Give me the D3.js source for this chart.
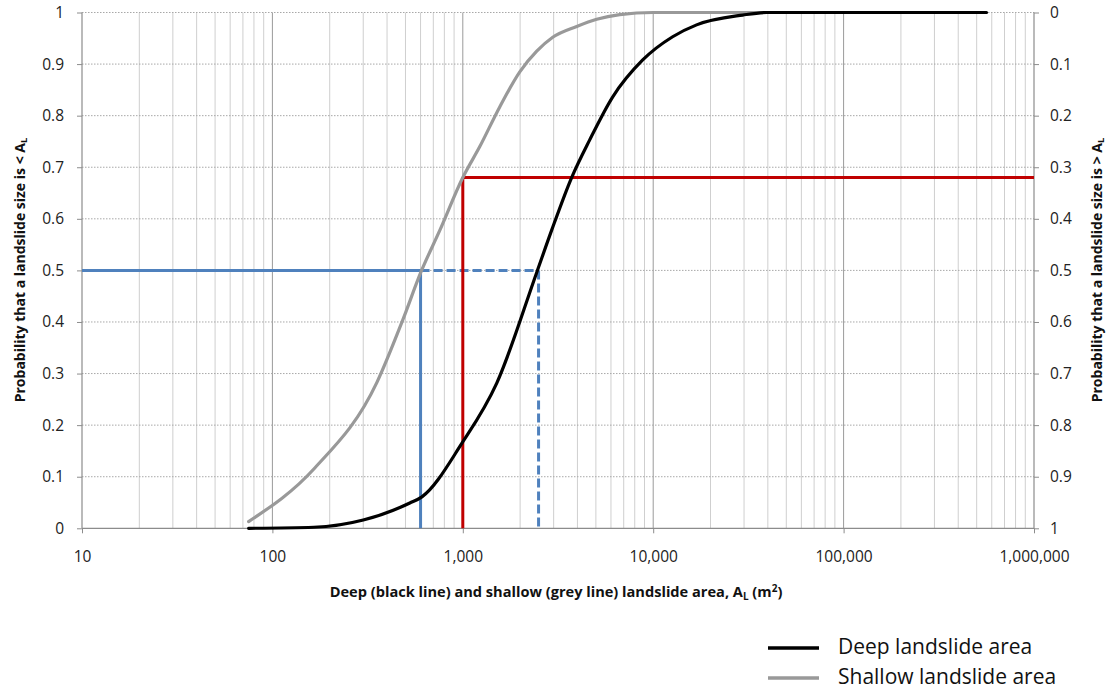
<!DOCTYPE html>
<html>
<head>
<meta charset="utf-8">
<script src="https://cdn.jsdelivr.net/npm/d3@7"></script>
<style>
  html, body { margin: 0; padding: 0; background: #fff; }
  svg { display: block; font-family: "Open Sans", Lato, sans-serif; }
</style>
</head>
<body>
<svg id="chart" width="1108" height="690"></svg>
<script>
// Cumulative probability of landslide area (m²)
const deepArea = [75, 165, 300, 527, 610, 990, 1510, 2450, 2930, 3730, 4640, 6120, 8810, 12650, 16900, 29500, 39500, 563000];
const deepProb = [0, 0.002, 0.016, 0.049, 0.061, 0.165, 0.282, 0.497, 0.578, 0.68, 0.753, 0.836, 0.908, 0.953, 0.976, 0.995, 1.0, 1.0];

const shallowArea = [75, 167, 354, 484, 603, 758, 1000, 1228, 1563, 1992, 2445, 2967, 3966, 5050, 6670, 10000, 40000];
const shallowProb = [0.013, 0.117, 0.283, 0.404, 0.497, 0.578, 0.68, 0.74, 0.817, 0.885, 0.925, 0.952, 0.973, 0.987, 0.996, 1.0, 1.0];

// Reference lines: median areas and the probability at 1,000 m²
const medianProb = 0.5;
const medianShallow = 600;
const medianDeep = 2500;
const refArea = 1000;
const refProb = 0.68;

const xDomain = [10, 1000000];
const xTickValues = [10, 100, 1000, 10000, 100000, 1000000];
const xTickLabels = ["10", "100", "1,000", "10,000", "100,000", "1,000,000"];
const yTickValues = [0, 0.1, 0.2, 0.3, 0.4, 0.5, 0.6, 0.7, 0.8, 0.9, 1];
const yTickLabels = ["0", "0.1", "0.2", "0.3", "0.4", "0.5", "0.6", "0.7", "0.8", "0.9", "1"];
const yRightLabels = ["1", "0.9", "0.8", "0.7", "0.6", "0.5", "0.4", "0.3", "0.2", "0.1", "0"];

const legendItems = ["Deep landslide area", "Shallow landslide area"];
const legendColors = ["#000000", "#999999"];

const svg = d3.select("#chart");
const plotL = 82, plotR = 1034, plotT = 12.5, plotB = 528.3;

const x = d3.scaleLog().domain(xDomain).range([plotL, plotR]);
const y = d3.scaleLinear().domain([0, 1]).range([plotB, plotT]);
const yRight = d3.scaleLinear().domain([1, 0]).range([plotB, plotT]);

// Vertical grid: minor log lines lighter, decades darker
const minor = [];
for (let d = 10; d < 1000000; d *= 10) {
  for (let k = 2; k <= 9; k++) minor.push(d * k);
}
svg.append("g").selectAll("line").data(minor).join("line")
  .attr("x1", d => x(d)).attr("x2", d => x(d))
  .attr("y1", plotT).attr("y2", plotB)
  .attr("stroke", "#cfcfcf").attr("stroke-width", 1);
svg.append("g").selectAll("line").data(xTickValues.slice(1, -1)).join("line")
  .attr("x1", d => x(d)).attr("x2", d => x(d))
  .attr("y1", plotT).attr("y2", plotB)
  .attr("stroke", "#9a9a9a").attr("stroke-width", 1);

// Horizontal dotted grid
svg.append("g").selectAll("line").data(yTickValues.slice(1)).join("line")
  .attr("x1", plotL).attr("x2", plotR)
  .attr("y1", d => y(d)).attr("y2", d => y(d))
  .attr("stroke", "#a8a8a8").attr("stroke-width", 1)
  .attr("stroke-dasharray", "1.5,1.5");

// Axes
const axisColor = "#8c8c8c";
const gx = svg.append("g").attr("transform", `translate(0,${plotB})`)
  .call(d3.axisBottom(x).tickValues(xTickValues).tickFormat((d, i) => xTickLabels[i]).tickSize(5).tickPadding(18));
const gy = svg.append("g").attr("transform", `translate(${plotL},0)`)
  .call(d3.axisLeft(y).tickValues(yTickValues).tickFormat((d, i) => yTickLabels[i]).tickSize(5).tickPadding(13));
const gy2 = svg.append("g").attr("transform", `translate(${plotR},0)`)
  .call(d3.axisRight(yRight).tickValues(yTickValues.map(v => 1 - v)).tickFormat((d, i) => yRightLabels[i]).tickSize(5).tickPadding(11));

[gx, gy, gy2].forEach(g => {
  g.select(".domain").attr("stroke", axisColor).attr("stroke-width", 1.2);
  g.selectAll(".tick line").attr("stroke", axisColor);
  g.selectAll(".tick text").attr("fill", "#222").attr("font-size", "15.5px")
    .attr("font-family", "'Open Sans', sans-serif");
});
gy.select(".domain").attr("d", `M0,${plotT}V${plotB}`);
gy2.select(".domain").attr("d", `M0,${plotT}V${plotB}`);
gx.select(".domain").attr("d", `M${plotL},0H${plotR}`);

// Reference lines
const blue = "#4f81bd", red = "#c00000";
const refs = svg.append("g").attr("fill", "none").attr("stroke-width", 3);
refs.append("line").attr("x1", x(xDomain[0])).attr("x2", x(medianShallow))
  .attr("y1", y(medianProb)).attr("y2", y(medianProb)).attr("stroke", blue);
refs.append("line").attr("x1", x(medianShallow)).attr("x2", x(medianShallow))
  .attr("y1", y(medianProb)).attr("y2", y(0)).attr("stroke", blue);
refs.append("line").attr("x1", x(medianShallow)).attr("x2", x(medianDeep))
  .attr("y1", y(medianProb)).attr("y2", y(medianProb)).attr("stroke", blue)
  .attr("stroke-dasharray", "9,4");
refs.append("line").attr("x1", x(medianDeep)).attr("x2", x(medianDeep))
  .attr("y1", y(medianProb)).attr("y2", y(0)).attr("stroke", blue)
  .attr("stroke-dasharray", "9,4");

// Curves
const line = d3.line().x(d => x(d[0])).y(d => y(d[1])).curve(d3.curveMonotoneX);
svg.append("path").datum(d3.zip(shallowArea, shallowProb))
  .attr("d", line).attr("fill", "none").attr("stroke", "#999999").attr("stroke-width", 3.2)
  .attr("stroke-linecap", "round");
svg.append("path").datum(d3.zip(deepArea, deepProb))
  .attr("d", line).attr("fill", "none").attr("stroke", "#000").attr("stroke-width", 3.2)
  .attr("stroke-linecap", "round");

refs.append("line").attr("x1", x(refArea)).attr("x2", x(refArea))
  .attr("y1", y(refProb)).attr("y2", y(0)).attr("stroke", red);
refs.append("line").attr("x1", x(refArea)).attr("x2", x(xDomain[1]))
  .attr("y1", y(refProb)).attr("y2", y(refProb)).attr("stroke", red);

// Axis titles
const xt = svg.append("text").attr("x", 556).attr("y", 597)
  .attr("text-anchor", "middle").attr("font-weight", "bold").attr("font-size", "14.6px").attr("fill", "#111");
xt.append("tspan").text("Deep (black line) and shallow (grey line) landslide area, A");
xt.append("tspan").attr("font-size", "10px").attr("dy", 3).text("L");
xt.append("tspan").attr("dy", -3).text(" (m");
xt.append("tspan").attr("font-size", "10px").attr("dy", -5).text("2");
xt.append("tspan").attr("dy", 5).text(")");

function yTitle(cx, sign) {
  const t = svg.append("text").attr("transform", `translate(${cx},270) rotate(-90)`)
    .attr("text-anchor", "middle").attr("font-weight", "bold").attr("font-size", "14px").attr("fill", "#111");
  t.append("tspan").text(`Probability that a  landslide size is ${sign} A`);
  t.append("tspan").attr("font-size", "9.5px").attr("dy", 2).text("L");
}
yTitle(25, "<");
yTitle(1102, ">");

// Legend
const lg = svg.append("g");
legendItems.forEach((name, i) => {
  const ly = 648 + i * 30;
  lg.append("line").attr("x1", 768).attr("x2", 819).attr("y1", ly).attr("y2", ly)
    .attr("stroke", legendColors[i]).attr("stroke-width", 3.5);
  lg.append("text").attr("x", 838).attr("y", ly + 6).text(name)
    .attr("font-size", "21px").attr("fill", "#111");
});
</script>
</body>
</html>
